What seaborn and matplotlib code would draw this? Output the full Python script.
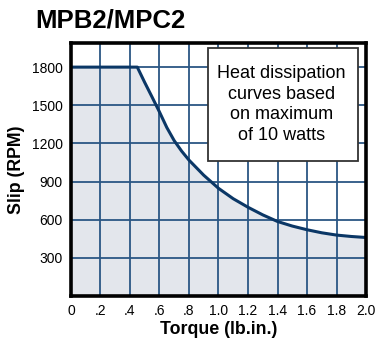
import numpy as np
import pandas as pd
import seaborn as sns
import matplotlib.pyplot as plt
from matplotlib.patches import Rectangle

# %% Datos.
torque = [0.0, 0.45, 0.5, 0.55, 0.6, 0.65, 0.7, 0.75, 0.8, 0.9, 1.0, 1.1, 1.2,
          1.3, 1.4, 1.5, 1.6, 1.7, 1.8, 1.9, 2.0]
slip = [1800, 1800, 1680, 1565, 1448, 1325, 1222, 1140, 1069, 950, 847, 765, 698,
        638, 586, 550, 521, 497, 479, 468, 460]
x_ticks = [0, 0.2, 0.4, 0.6, 0.8, 1.0, 1.2, 1.4, 1.6, 1.8, 2.0]
x_labels = ['0', '.2', '.4', '.6', '.8', '1.0', '1.2', '1.4', '1.6', '1.8', '2.0']
y_ticks = [300, 600, 900, 1200, 1500, 1800]

df = pd.DataFrame({'torque': torque, 'slip': slip})

# %% Estilo.
sns.set_style('white')
plt.rcParams['font.family'] = ['Liberation Sans', 'DejaVu Sans']
plt.rcParams['text.color'] = 'black'
plt.rcParams['axes.labelcolor'] = 'black'

grid_color = '#2b5684'
line_color = '#0b3766'
fill_color = '#e3e6ec'

fig = plt.figure(figsize=(3.77, 3.41), dpi=100)
ax = fig.add_axes([0.188, 0.132, 0.783, 0.742])

ax.fill_between(df['torque'], 0, df['slip'], color=fill_color, zorder=0)
sns.lineplot(data=df, x='torque', y='slip', ax=ax, color=line_color,
             linewidth=2.2, zorder=3)

ax.set_xlim(0, 2.0)
ax.set_ylim(0, 1990)
ax.set_xticks(x_ticks)
ax.set_xticklabels(x_labels)
ax.set_yticks(y_ticks)
ax.tick_params(length=0, labelsize=10, pad=6, colors='black')
ax.grid(True, color=grid_color, linewidth=1.3)
for line in ax.get_xgridlines() + ax.get_ygridlines():
    line.set_zorder(1)
for s in ax.spines.values():
    s.set_linewidth(2.6)
    s.set_color('black')
    s.set_zorder(5)

ax.set_xlabel('Torque (lb.in.)', fontsize=12.8, fontweight='bold', labelpad=2)
ax.set_ylabel('Slip (RPM)', fontsize=12.8, fontweight='bold', labelpad=5)

# Recuadro con la nota.
ax.add_patch(Rectangle((0.465, 0.535), 0.508, 0.447, transform=ax.transAxes,
                       facecolor='white', edgecolor='#333333', linewidth=1.3,
                       zorder=6))
ax.text(0.714, 0.756, 'Heat dissipation\ncurves based\non maximum\nof 10 watts',
        transform=ax.transAxes, ha='center', va='center', fontsize=13,
        linespacing=1.27, zorder=7)

fig.text(0.093, 0.94, 'MPB2/MPC2', fontsize=18.5, fontweight='bold',
         ha='left', va='center')

plt.savefig('out.png', dpi=100)
